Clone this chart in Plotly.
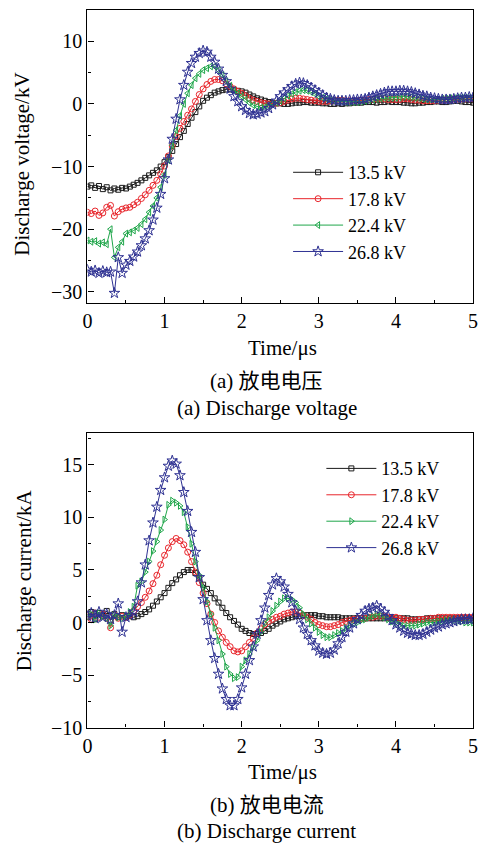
"""
Discharge voltage / current waveforms for four charging voltages.
"""

import plotly.graph_objects as go
from plotly.subplots import make_subplots

# time grid (us), sampled every 0.05 us
time_us = [round(i * 0.05, 2) for i in range(101)]

labels = ["13.5 kV", "17.8 kV", "22.4 kV", "26.8 kV"]

# (a) discharge voltage, kV
volt_135 = [
    -13.2, -13.0, -13.4, -13.1, -13.6, -13.3, -13.8, -13.5, -13.7, -13.4,
    -13.5, -13.2, -12.9, -12.6, -12.2, -11.8, -11.4, -11.0, -10.6, -10.0,
    -9.3, -8.5, -7.5, -6.4, -5.3, -4.3, -3.2, -2.2, -1.3, -0.4,
    0.5, 1.0, 1.4, 1.8, 2.0, 2.2, 2.3, 2.3, 2.2, 2.1,
    2.0, 1.8, 1.5, 1.2, 0.9, 0.7, 0.5, 0.3, 0.2, 0.1,
    0.1, 0.0, 0.0, 0.1, 0.2, 0.2, 0.3, 0.3, 0.2, 0.2,
    0.2, 0.1, 0.1, 0.0, 0.0, 0.1, 0.0, 0.1, 0.1, 0.2,
    0.2, 0.2, 0.3, 0.3, 0.3, 0.2, 0.3, 0.3, 0.4, 0.3,
    0.3, 0.3, 0.2, 0.2, 0.1, 0.1, 0.2, 0.2, 0.3, 0.3,
    0.4, 0.4, 0.3, 0.3, 0.4, 0.5, 0.5, 0.4, 0.3, 0.3,
    0.2,
]
volt_178 = [
    -17.3, -17.5, -17.1, -17.8, -17.4, -16.5, -16.2, -17.9, -17.2, -16.8,
    -16.6, -16.5, -16.1, -15.7, -15.1, -14.5, -13.8, -13.0, -12.2, -11.2,
    -9.9, -8.3, -6.7, -5.2, -3.9, -2.8, -1.8, -0.8, 0.4, 1.5,
    2.4, 3.1, 3.6, 3.9, 3.9, 3.7, 3.2, 2.8, 2.4, 2.0,
    1.7, 1.3, 0.9, 0.6, 0.4, 0.2, 0.1, 0.0, 0.0, 0.1,
    0.2, 0.4, 0.6, 0.8, 0.9, 0.9, 0.8, 0.7, 0.6, 0.5,
    0.4, 0.4, 0.4, 0.5, 0.5, 0.6, 0.6, 0.5, 0.5, 0.5,
    0.5, 0.6, 0.6, 0.7, 0.7, 0.8, 0.8, 0.8, 0.7, 0.7,
    0.7, 0.7, 0.8, 0.8, 0.7, 0.6, 0.6, 0.5, 0.5, 0.5,
    0.5, 0.6, 0.6, 0.7, 0.7, 0.8, 0.8, 0.8, 0.8, 0.8,
    0.8,
]
volt_224 = [
    -21.8, -22.0, -21.9, -22.3, -22.1, -22.4, -20.0, -24.5, -22.9, -22.0,
    -20.7, -20.5, -20.2, -19.8, -19.2, -18.4, -17.3, -16.3, -15.0, -13.3,
    -11.3, -9.0, -6.6, -4.2, -1.9, 0.0, 1.7, 3.0, 4.1, 4.8,
    5.4, 5.7, 6.0, 6.0, 5.4, 4.6, 3.6, 2.9, 2.2, 1.7,
    1.2, 0.7, 0.2, -0.2, -0.4, -0.6, -0.5, -0.3, 0.0, 0.2,
    0.5, 0.9, 1.3, 1.6, 1.9, 2.1, 2.2, 2.1, 1.9, 1.6,
    1.2, 1.0, 0.8, 0.6, 0.5, 0.4, 0.4, 0.3, 0.3, 0.3,
    0.3, 0.4, 0.5, 0.6, 0.7, 0.8, 0.9, 1.0, 1.0, 1.0,
    1.0, 1.1, 1.2, 1.2, 1.1, 1.0, 0.9, 0.8, 0.7, 0.7,
    0.7, 0.7, 0.8, 0.8, 0.9, 0.9, 1.0, 1.0, 1.0, 1.0,
    1.0,
]
volt_268 = [
    -26.5, -26.8, -26.6, -27.0, -26.7, -26.9, -26.8, -30.2, -24.5, -27.0,
    -25.7, -25.1, -24.4, -23.6, -22.6, -21.5, -20.2, -18.5, -16.6, -14.4,
    -11.9, -8.9, -5.6, -2.4, 0.7, 3.0, 5.1, 6.5, 7.5, 8.1,
    8.5, 8.3, 7.5, 6.7, 5.6, 4.6, 3.6, 2.4, 1.2, 0.4,
    -0.4, -1.0, -1.5, -1.7, -1.6, -1.4, -1.2, -0.7, -0.1, 0.5,
    1.2, 1.8, 2.3, 2.8, 3.2, 3.4, 3.3, 3.0, 2.6, 2.2,
    1.8, 1.4, 1.0, 0.8, 0.6, 0.5, 0.5, 0.5, 0.6, 0.6,
    0.7, 0.7, 0.8, 1.0, 1.2, 1.4, 1.6, 1.8, 2.0, 2.0,
    2.0, 2.1, 2.1, 2.0, 1.9, 1.7, 1.5, 1.3, 1.2, 1.0,
    0.9, 0.8, 0.7, 0.7, 0.7, 0.8, 0.9, 1.0, 1.0, 1.1,
    1.0,
]

# (b) discharge current, kA
curr_135 = [
    0.5, 1.0, 0.3, 0.9, 0.6, 1.1, 0.2, 0.8, 0.5, 0.7,
    0.5, 0.6, 0.5, 0.6, 0.8, 1.0, 1.25, 1.6, 2.0, 2.4,
    2.8, 3.3, 3.75, 4.1, 4.5, 4.8, 5.0, 5.0, 4.7, 4.2,
    3.6, 3.2, 2.8, 2.3, 1.9, 1.4, 0.9, 0.5, 0.15, -0.2,
    -0.6, -0.8, -1.0, -1.1, -1.1, -1.0, -0.8, -0.6, -0.3, -0.1,
    0.1, 0.3, 0.4, 0.5, 0.6, 0.6, 0.7, 0.7, 0.7, 0.7,
    0.6, 0.6, 0.5, 0.5, 0.5, 0.5, 0.4, 0.4, 0.4, 0.4,
    0.4, 0.4, 0.4, 0.4, 0.4, 0.4, 0.4, 0.4, 0.4, 0.4,
    0.4, 0.4, 0.4, 0.4, 0.3, 0.3, 0.3, 0.3, 0.4, 0.4,
    0.4, 0.4, 0.4, 0.4, 0.4, 0.4, 0.4, 0.4, 0.4, 0.4,
    0.4,
]
curr_178 = [
    0.6, 0.3, 0.9, 0.5, 0.8, 0.4, -0.5, 0.7, 0.4, 0.6,
    0.5, 0.7, 1.1, 1.5, 1.9, 2.4, 3.0, 3.7, 4.5, 5.5,
    6.4, 7.1, 7.7, 8.0, 7.8, 7.4, 6.7, 5.8, 4.8, 3.8,
    2.8, 1.8, 0.8, 0.0, -0.8, -1.4, -1.9, -2.3, -2.7, -2.8,
    -2.7, -2.3, -1.9, -1.5, -1.0, -0.6, -0.2, 0.1, 0.3, 0.5,
    0.6, 0.8, 0.9, 1.0, 1.0, 0.9, 0.7, 0.5, 0.3, 0.0,
    -0.2, -0.3, -0.4, -0.4, -0.3, -0.2, 0.0, 0.1, 0.2, 0.3,
    0.3, 0.4, 0.4, 0.5, 0.5, 0.6, 0.6, 0.6, 0.5, 0.5,
    0.5, 0.4, 0.3, 0.2, 0.2, 0.2, 0.3, 0.3, 0.3, 0.4,
    0.4, 0.5, 0.5, 0.5, 0.5, 0.5, 0.5, 0.5, 0.5, 0.5,
    0.5,
]
curr_224 = [
    0.5, 0.8, 0.3, 0.9, 0.6, 0.4, -0.3, 0.7, 0.5, 0.4,
    0.6, 1.0, 1.5, 3.5, 3.9, 4.8, 5.8, 6.8, 7.7, 8.8,
    9.8, 11.2, 11.6, 11.4, 11.1, 10.5, 9.1, 7.5, 5.8, 4.5,
    3.3, 2.0, 0.8, -0.5, -1.7, -3.0, -4.2, -4.9, -5.3, -5.2,
    -4.2, -3.6, -3.0, -2.4, -1.7, -0.9, -0.1, 0.5, 1.1, 1.6,
    2.0, 2.3, 2.3, 2.2, 1.9, 1.4, 0.8, 0.3, -0.1, -0.5,
    -0.9, -1.2, -1.4, -1.4, -1.2, -1.0, -0.8, -0.5, -0.3, -0.1,
    0.0, 0.2, 0.3, 0.5, 0.6, 0.8, 0.7, 0.5, 0.3, 0.1,
    0.0, -0.2, -0.3, -0.3, -0.3, -0.3, -0.2, -0.1, 0.0, 0.0,
    0.0, 0.1, 0.1, 0.2, 0.2, 0.2, 0.1, 0.1, 0.0, 0.0,
    0.0,
]
curr_268 = [
    0.6, 0.9, 0.4, 1.0, 0.5, 0.8, 0.3, 0.7, 1.8, -0.9,
    0.5, 0.7, 1.0, 2.0, 3.8, 5.5, 7.8, 9.5, 11.0, 12.6,
    13.8, 14.9, 15.4, 15.1, 14.0, 12.4, 10.6, 8.6, 6.7, 4.3,
    2.2, 0.2, -1.7, -3.4, -4.9, -6.3, -7.3, -7.9, -7.9, -7.3,
    -6.2, -4.9, -3.6, -2.3, -1.1, 0.2, 1.4, 2.6, 3.6, 4.2,
    3.9, 3.4, 2.7, 1.9, 1.1, 0.3, -0.5, -1.1, -1.7, -2.2,
    -2.7, -2.9, -3.0, -2.9, -2.6, -2.0, -1.4, -0.9, -0.5, -0.1,
    0.3, 0.7, 1.1, 1.3, 1.4, 1.6, 1.3, 1.0, 0.6, 0.2,
    -0.2, -0.5, -0.8, -1.0, -1.1, -1.2, -1.2, -1.1, -0.9, -0.7,
    -0.5, -0.4, -0.2, -0.1, 0.0, 0.1, 0.2, 0.3, 0.3, 0.3,
    0.4,
]

# the page body keeps its default 8px margin (the figure starts at 8,8 and
# only page x < 483 shows); px_x / px_y take page pixel positions
W, H = 491, 857
OFF = 8
FW, FH = W - 2 * OFF, H - OFF
SERIF = "Liberation Serif, Noto Sans CJK SC, serif"

colors = ["#1a1a1a", "#e8262c", "#1fa64a", "#2e3192"]
sym_top = ["square-open", "circle-open", "triangle-left-open", "star-open"]
sym_bot = ["square-open", "circle-open", "triangle-right-open", "star-open"]
sizes = [5, 6, 6, 8]


def px_x(p):
    return (p - OFF) / FW


def px_y(p):
    return (H - p) / FH


fig = make_subplots(rows=2, cols=1)

for i, ys in enumerate([volt_135, volt_178, volt_224, volt_268]):
    fig.add_trace(go.Scatter(
        x=time_us, y=ys, name=labels[i], mode="lines+markers",
        line=dict(color=colors[i], width=1),
        marker=dict(symbol=sym_top[i], size=sizes[i], color=colors[i], line=dict(width=1)),
        legend="legend",
    ), row=1, col=1)

for i, ys in enumerate([curr_135, curr_178, curr_224, curr_268]):
    fig.add_trace(go.Scatter(
        x=time_us, y=ys, name=labels[i], mode="lines+markers",
        line=dict(color=colors[i], width=1),
        marker=dict(symbol=sym_bot[i], size=sizes[i], color=colors[i], line=dict(width=1)),
        legend="legend2",
    ), row=2, col=1)

ax_common = dict(
    showline=True, linecolor="black", linewidth=1.2, mirror=True,
    ticks="inside", ticklen=6, tickcolor="black", tickwidth=1,
    showgrid=False, zeroline=False, ticklabeloverflow="allow",
    tickfont=dict(family=SERIF, size=20, color="black"),
)

fig.update_xaxes(**ax_common, range=[0, 5], dtick=1,
                 minor=dict(ticks="inside", ticklen=3, dtick=0.5, tickcolor="black"))
fig.update_xaxes(domain=[px_x(84), px_x(478)], row=1, col=1)
fig.update_xaxes(domain=[px_x(84), px_x(478)], row=2, col=1)

fig.update_yaxes(**ax_common)
fig.update_yaxes(domain=[px_y(307), px_y(10)], range=[-31.8, 15], dtick=10,
                 minor=dict(ticks="inside", ticklen=3, dtick=5, tickcolor="black"),
                 row=1, col=1)
fig.update_yaxes(domain=[px_y(737), px_y(439)], range=[-10, 18], dtick=5,
                 minor=dict(ticks="inside", ticklen=3, dtick=2.5, tickcolor="black"),
                 row=2, col=1)

txt = dict(family=SERIF, size=21, color="black")
annos = [
    dict(text="Discharge voltage/kV", x=px_x(17), y=px_y(166), textangle=-90),
    dict(text="Discharge current/kA", x=px_x(20), y=px_y(588), textangle=-90),
    dict(text="Time/μs", x=px_x(283), y=px_y(352)),
    dict(text="Time/μs", x=px_x(283), y=px_y(782)),
    dict(text="(a) 放电电压", x=px_x(267), y=px_y(386)),
    dict(text="(a) Discharge voltage", x=px_x(267), y=px_y(413)),
    dict(text="(b) 放电电流", x=px_x(267), y=px_y(815)),
    dict(text="(b) Discharge current", x=px_x(267), y=px_y(842)),
]
for a in annos:
    fig.add_annotation(xref="paper", yref="paper", showarrow=False,
                       xanchor="center", yanchor="middle", font=txt, **a)

leg_common = dict(
    xanchor="left", yanchor="top", bgcolor="rgba(0,0,0,0)",
    font=dict(family=SERIF, size=18, color="black"),
    itemwidth=50, tracegroupgap=0,
)

fig.update_layout(
    width=FW, height=FH,
    margin=dict(l=0, r=0, t=0, b=0),
    paper_bgcolor="white", plot_bgcolor="white",
    showlegend=True,
    legend=dict(x=px_x(289), y=px_y(156), **leg_common),
    legend2=dict(x=px_x(323), y=px_y(456), **leg_common),
)

fig.write_html("out.html")
